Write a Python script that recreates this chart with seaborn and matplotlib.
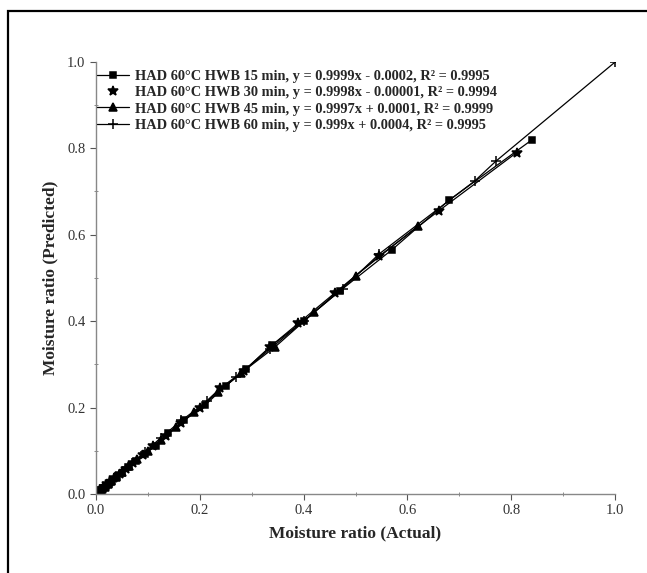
import matplotlib
matplotlib.use("Agg")
import matplotlib.pyplot as plt
import seaborn as sns
from matplotlib.patches import Rectangle
from matplotlib.ticker import MultipleLocator

actual_15 = [0.84, 0.68, 0.57, 0.47, 0.40, 0.34, 0.29, 0.25, 0.21, 0.17, 0.14, 0.115, 0.095, 0.078, 0.063, 0.05, 0.04, 0.032, 0.025, 0.019, 0.014, 0.01, 0.007]
pred_15 = [0.82, 0.68, 0.565, 0.47, 0.40, 0.345, 0.29, 0.25, 0.205, 0.17, 0.14, 0.112, 0.092, 0.077, 0.062, 0.049, 0.039, 0.031, 0.024, 0.018, 0.013, 0.009, 0.006]

actual_30 = [0.81, 0.66, 0.545, 0.46, 0.39, 0.335, 0.285, 0.24, 0.20, 0.165, 0.135, 0.11, 0.09, 0.072, 0.058, 0.046, 0.036, 0.028, 0.022, 0.016, 0.012, 0.008]
pred_30 = [0.79, 0.655, 0.55, 0.465, 0.395, 0.34, 0.285, 0.245, 0.20, 0.165, 0.134, 0.11, 0.09, 0.072, 0.058, 0.046, 0.036, 0.028, 0.022, 0.016, 0.012, 0.008]

actual_45 = [0.62, 0.50, 0.42, 0.345, 0.28, 0.235, 0.19, 0.155, 0.125, 0.10, 0.08, 0.064, 0.05, 0.039, 0.03, 0.023, 0.017, 0.012, 0.008, 0.005]
pred_45 = [0.62, 0.505, 0.42, 0.34, 0.28, 0.235, 0.19, 0.155, 0.125, 0.10, 0.08, 0.064, 0.05, 0.039, 0.03, 0.023, 0.017, 0.012, 0.008, 0.005]

actual_60 = [1.0, 0.77, 0.73, 0.545, 0.475, 0.40, 0.335, 0.27, 0.215, 0.165, 0.125, 0.095, 0.07, 0.052, 0.038, 0.027, 0.019, 0.013, 0.008, 0.005]
pred_60 = [1.0, 0.77, 0.725, 0.555, 0.475, 0.40, 0.335, 0.27, 0.215, 0.17, 0.13, 0.097, 0.072, 0.053, 0.039, 0.028, 0.019, 0.013, 0.008, 0.005]

labels = [
    "HAD 60°C HWB 15 min, y = 0.9999x - 0.0002, R² = 0.9995",
    "HAD 60°C HWB 30 min, y = 0.9998x - 0.00001, R² = 0.9994",
    "HAD 60°C HWB 45 min, y = 0.9997x + 0.0001, R² = 0.9999",
    "HAD 60°C HWB 60 min, y = 0.999x + 0.0004, R² = 0.9995",
]
tick_vals = [0.0, 0.2, 0.4, 0.6, 0.8, 1.0]
tick_labels = ["0.0", "0.2", "0.4", "0.6", "0.8", "1.0"]

sns.set_style("white")
plt.rcParams["font.family"] = ["Liberation Serif", "DejaVu Serif"]

fig = plt.figure(figsize=(6.47, 5.73), dpi=100)
ax = fig.add_axes([0.148, 0.138, 0.803, 0.754])

series = [
    (actual_15, pred_15, "s", 5),
    (actual_30, pred_30, "*", 7.5),
    (actual_45, pred_45, "^", 5.5),
    (actual_60, pred_60, "+", 7.5),
]
for (xa, yp, mk, ms), lab in zip(series, labels):
    sns.lineplot(x=xa, y=yp, ax=ax, marker=mk, color="black", markersize=ms,
                 linewidth=0.9, markeredgecolor="black", markeredgewidth=1.1,
                 label=lab, sort=True, estimator=None)

leg = ax.legend(loc="upper left", bbox_to_anchor=(-0.012, 1.0), frameon=False,
                prop={"family": "Liberation Serif", "weight": "bold", "size": 10.4},
                handlelength=2.2, handletextpad=0.4, labelspacing=0.22,
                borderaxespad=0.15)
# the 30 min legend entry shows the marker only
leg.get_lines()[1].set_linestyle("")

ax.set_xlim(0, 1.0)
ax.set_ylim(0, 1.0)
ax.set_xticks(tick_vals)
ax.set_xticklabels(tick_labels)
ax.set_yticks(tick_vals)
ax.set_yticklabels(tick_labels)
ax.xaxis.set_minor_locator(MultipleLocator(0.1))
ax.yaxis.set_minor_locator(MultipleLocator(0.1))
ax.tick_params(which="major", direction="out", length=4, width=0.8, labelsize=10.5,
               bottom=True, left=True, colors="#555555", labelcolor="#333333")
ax.tick_params(which="minor", direction="inout", length=3, width=0.6,
               bottom=True, left=True, colors="#777777")
for s in ["top", "right"]:
    ax.spines[s].set_visible(False)
for s in ["left", "bottom"]:
    ax.spines[s].set_color("#888888")
    ax.spines[s].set_linewidth(1.0)

ax.set_xlabel("Moisture ratio (Actual)", fontsize=12.5, fontweight="bold", labelpad=6)
ax.set_ylabel("Moisture ratio (Predicted)", fontsize=12.5, fontweight="bold", labelpad=6)

top = 1 - 11 / 573
frame = Rectangle((8 / 647, -0.2), 1.2, top + 0.2, transform=fig.transFigure,
                  fill=False, edgecolor="black", linewidth=1.6, clip_on=False)
fig.patches.append(frame)

fig.savefig("out.png", dpi=100)
